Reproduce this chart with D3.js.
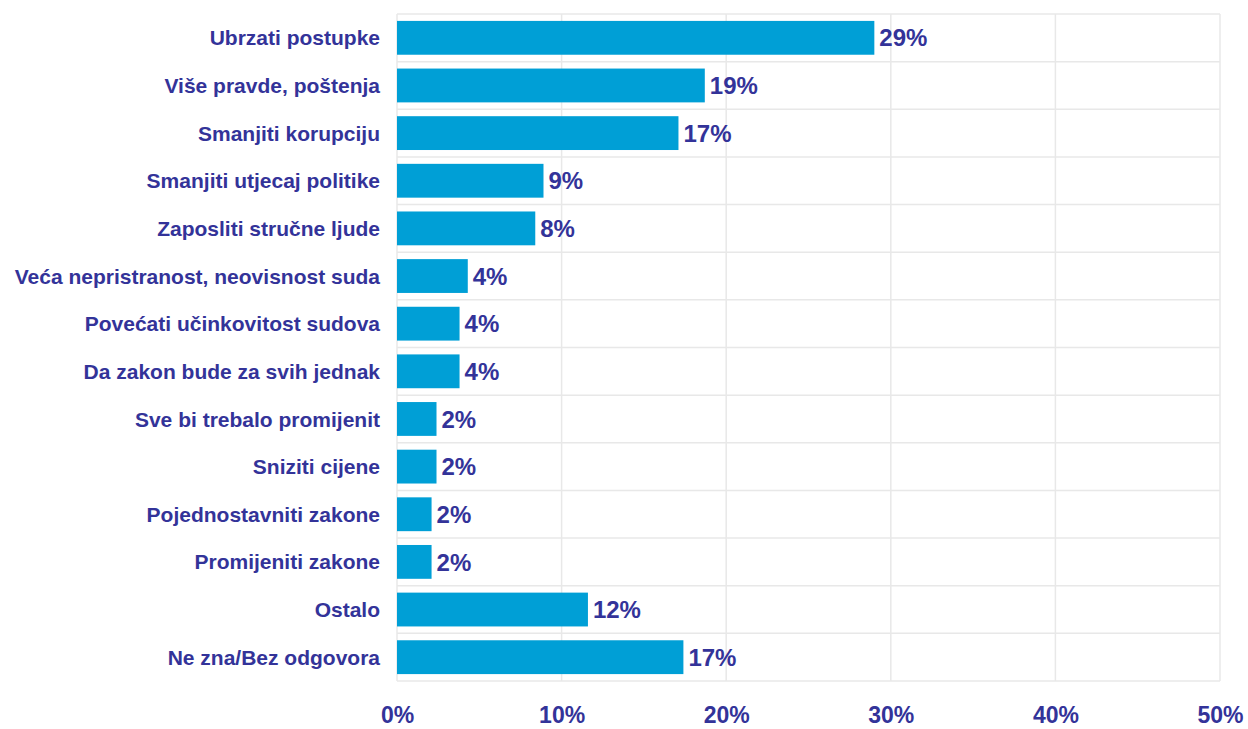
<!DOCTYPE html>
<html>
<head>
<meta charset="utf-8">
<script src="https://cdn.jsdelivr.net/npm/d3@7"></script>
<style>
  body { margin: 0; background: #fff; }
  svg text { font-family: "Liberation Sans", Arial, sans-serif; font-weight: bold; fill: #333399; }
</style>
</head>
<body>
<svg id="chart" width="1248" height="729"></svg>
<script>
// categories and values (percent)
var categories = [
  "Ubrzati postupke",
  "Više pravde, poštenja",
  "Smanjiti korupciju",
  "Smanjiti utjecaj politike",
  "Zaposliti stručne ljude",
  "Veća nepristranost, neovisnost suda",
  "Povećati učinkovitost sudova",
  "Da zakon bude za svih jednak",
  "Sve bi trebalo promijenit",
  "Sniziti cijene",
  "Pojednostavniti zakone",
  "Promijeniti zakone",
  "Ostalo",
  "Ne zna/Bez odgovora"
];
var values = [29, 18.7, 17.1, 8.9, 8.4, 4.3, 3.8, 3.8, 2.4, 2.4, 2.1, 2.1, 11.6, 17.4];
var valueLabels = ["29%", "19%", "17%", "9%", "8%", "4%", "4%", "4%", "2%", "2%", "2%", "2%", "12%", "17%"];
var ticks = [0, 10, 20, 30, 40, 50];

var plotLeft = 397, plotRight = 1220, plotTop = 14, plotBottom = 681;
var svg = d3.select('#chart');

var x = d3.scaleLinear().domain([0, 50]).range([plotLeft, plotRight]);
var y = d3.scaleBand().domain(categories).range([plotTop, plotBottom]).paddingInner(0.29).paddingOuter(0.145);
var rowH = (plotBottom - plotTop) / categories.length;

var grid = svg.append('g').attr('stroke', '#e8e8e8').attr('stroke-width', 1.5);
// horizontal row lines
d3.range(categories.length + 1).forEach(function (i) {
  grid.append('line')
    .attr('x1', plotLeft).attr('x2', plotRight)
    .attr('y1', plotTop + i * rowH).attr('y2', plotTop + i * rowH);
});
// vertical tick lines
grid.selectAll('line.v')
  .data(ticks)
  .enter().append('line')
  .attr('class', 'v')
  .attr('x1', d => x(d)).attr('x2', d => x(d))
  .attr('y1', plotTop).attr('y2', plotBottom);

svg.append('g').selectAll('rect')
  .data(values)
  .enter().append('rect')
  .attr('x', x(0))
  .attr('y', (d, i) => y(categories[i]))
  .attr('width', d => x(d) - x(0))
  .attr('height', y.bandwidth())
  .style('fill', '#009fd6');

svg.append('g').selectAll('text')
  .data(values)
  .enter().append('text')
  .attr('x', d => x(d) + 5)
  .attr('y', (d, i) => y(categories[i]) + y.bandwidth() / 2)
  .attr('dy', '0.36em')
  .style('font-size', '24px')
  .text((d, i) => valueLabels[i]);

// category axis
var yAxis = svg.append('g')
  .attr('transform', 'translate(' + (plotLeft - 17) + ',0)')
  .call(d3.axisLeft(y).tickSize(0).tickPadding(0));
yAxis.select('.domain').remove();
yAxis.selectAll('text')
  .attr('dy', '0.36em')
  .style('font-size', '21px')
  .style('font-family', '"Liberation Sans", Arial, sans-serif')
  .style('fill', '#333399');

// percent axis
var xAxis = svg.append('g')
  .attr('transform', 'translate(0,' + (plotBottom + 34) + ')')
  .call(d3.axisBottom(x).tickValues(ticks).tickSize(0).tickPadding(0).tickFormat(d => d + '%'));
xAxis.select('.domain').remove();
xAxis.selectAll('text')
  .attr('dy', '0.36em')
  .style('font-size', '23px')
  .style('font-family', '"Liberation Sans", Arial, sans-serif')
  .style('fill', '#333399');
</script>
</body>
</html>
